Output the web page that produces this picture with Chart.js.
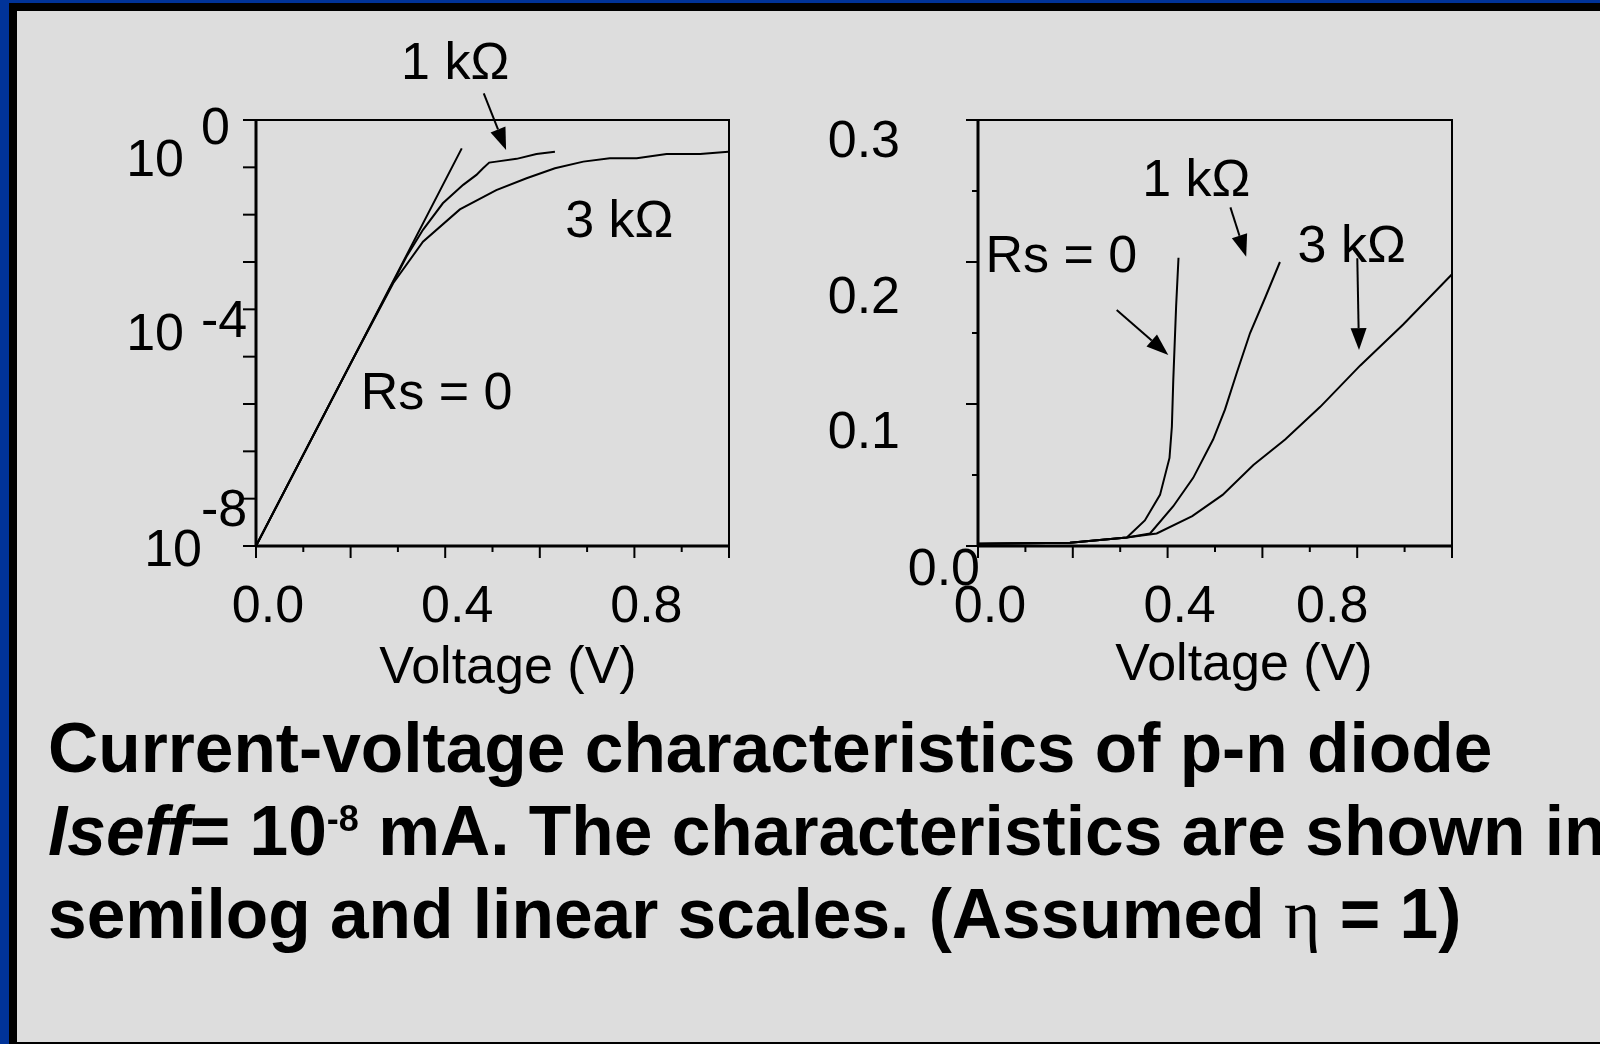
<!DOCTYPE html>
<html>
<head>
<meta charset="utf-8">
<title>Current-voltage characteristics of p-n diode</title>
<script src="https://cdn.jsdelivr.net/npm/chart.js@4.4.0/dist/chart.umd.min.js"></script>
<style>
  html, body { margin: 0; padding: 0; }
  body {
    width: 1600px; height: 1044px; overflow: hidden; position: relative;
    background: #003399;
    font-family: "Liberation Sans", Arial, sans-serif;
  }
  #frame { position: absolute; left: 9px; top: 3px; width: 1591px; height: 1041px; background: #000; }
  #panel { position: absolute; left: 17px; top: 11px; width: 1583px; height: 1031px; background: #dddddd; }
  canvas { position: absolute; left: 0; top: 0; }
  #caption {
    position: absolute; left: 48px; top: 707px;
    font-weight: bold; font-size: 69.5px; line-height: 83px;
    white-space: nowrap; color: #000;
  }
  #caption .sup { font-size: 36px; line-height: 0; vertical-align: 24px; }
  #caption .eta { font-family: "Liberation Serif", "DejaVu Serif", serif; font-weight: normal; }
</style>
</head>
<body>
<div id="frame"></div>
<div id="panel"></div>
<canvas id="semilog" width="1600" height="1044"></canvas>
<canvas id="linear" width="1600" height="1044"></canvas>
<div id="caption">
  <div>Current-voltage characteristics of p-n diode</div>
  <div><i>Iseff</i>= 10<span class="sup">-8</span> mA. The characteristics are shown in</div>
  <div>semilog and linear scales. (Assumed <span class="eta">&eta;</span> = 1)</div>
</div>
<script>
// voltage axis (shared)
const voltTicks = [0, 0.1, 0.2, 0.3, 0.4, 0.5, 0.6, 0.7, 0.8, 0.9, 1.0];
const voltLabelValues = [0, 0.4, 0.8];
const voltLabels = ['0.0', '0.4', '0.8'];

// semilog panel: current in mA
const logTicks = [1e-9, 1e-8, 1e-7, 1e-6, 1e-5, 1e-4, 1e-3, 1e-2, 1e-1, 1e0];
const logLabelExps = [0, -4, -8];

const semiV_rs0 = [0, 0.2, 0.435];
const semiI_rs0 = [1e-9, 7.2e-6, 0.251];

const semiV_1k = [0, 0.2, 0.318, 0.353, 0.395, 0.438, 0.466, 0.48, 0.493, 0.508, 0.551, 0.593, 0.632];
const semiI_1k = [1e-9, 7.2e-6, 1.29e-3, 4.79e-3, 0.0174, 0.0427, 0.0692, 0.0955, 0.126, 0.132, 0.151, 0.191, 0.214];

const semiV_3k = [0, 0.2, 0.29, 0.353, 0.431, 0.508, 0.572, 0.632, 0.692, 0.748, 0.805, 0.868, 0.939, 0.9985];
const semiI_3k = [1e-9, 7.2e-6, 3.55e-4, 2.69e-3, 0.0129, 0.0331, 0.0589, 0.0955, 0.132, 0.155, 0.155, 0.191, 0.191, 0.214];

// linear panel: current in mA
const linTicks = [0, 0.05, 0.1, 0.15, 0.2, 0.25, 0.3];
const linLabelValues = [0, 0.1, 0.2, 0.3];
const linLabels = ['0.0', '0.1', '0.2', '0.3'];

const linV_rs0 = [0, 0.194, 0.314, 0.352, 0.384, 0.404, 0.409, 0.412, 0.418, 0.423];
const linI_rs0 = [0.0015, 0.0023, 0.006, 0.018, 0.036, 0.062, 0.084, 0.117, 0.169, 0.203];

const linV_1k = [0, 0.194, 0.314, 0.363, 0.412, 0.454, 0.496, 0.521, 0.546, 0.574, 0.606, 0.637];
const linI_1k = [0.0015, 0.0023, 0.006, 0.0088, 0.028, 0.048, 0.075, 0.096, 0.122, 0.150, 0.175, 0.200];

const linV_3k = [0, 0.194, 0.314, 0.377, 0.452, 0.516, 0.581, 0.648, 0.722, 0.806, 0.897, 0.999];
const linI_3k = [0.0015, 0.0023, 0.006, 0.0088, 0.021, 0.036, 0.057, 0.075, 0.098, 0.127, 0.156, 0.191];

const FONT = '52px "Liberation Sans", Arial, sans-serif';
const CAP = 18.6; // half cap height of FONT, to centre digits on a y

function pts(xs, ys) {
  return xs.map((v, i) => ({ x: v, y: ys[i] }));
}

function seg(ctx, x1, y1, x2, y2) {
  ctx.beginPath();
  ctx.moveTo(x1, y1);
  ctx.lineTo(x2, y2);
  ctx.stroke();
}

function arrow(ctx, x1, y1, x2, y2) {
  const ang = Math.atan2(y2 - y1, x2 - x1);
  const len = 22, half = 8;
  const bx = x2 - len * Math.cos(ang), by = y2 - len * Math.sin(ang);
  seg(ctx, x1, y1, bx, by);
  ctx.beginPath();
  ctx.moveTo(x2, y2);
  ctx.lineTo(bx + half * Math.sin(ang), by - half * Math.cos(ang));
  ctx.lineTo(bx - half * Math.sin(ang), by + half * Math.cos(ang));
  ctx.closePath();
  ctx.fill();
}

// draws the axis box, ticks, tick labels, axis title and curve notes
function framePlugin(cfg) {
  return {
    id: 'frame',
    afterDraw(chart) {
      const ctx = chart.ctx, a = chart.chartArea;
      const xs = chart.scales.x, ys = chart.scales.y;
      ctx.save();
      ctx.strokeStyle = '#000';
      ctx.fillStyle = '#000';
      ctx.lineWidth = 2;
      ctx.strokeRect(a.left, a.top, a.right - a.left, a.bottom - a.top);
      ctx.lineWidth = 3;
      seg(ctx, a.left, a.top - 1, a.left, a.bottom + 1);
      seg(ctx, a.left - 1, a.bottom, a.right + 1, a.bottom);

      // voltage ticks: long every 0.2, short in between
      ctx.lineWidth = 2;
      voltTicks.forEach((v, i) => {
        const px = xs.getPixelForValue(v);
        seg(ctx, px, a.bottom, px, a.bottom + (i % 2 === 0 ? 12 : 6));
      });
      ctx.font = FONT;
      ctx.textAlign = 'center';
      ctx.textBaseline = 'alphabetic';
      voltLabelValues.forEach((v, i) => {
        const dx = (cfg.xLabelDx[voltLabels[i]] || 0) + 12;
        ctx.fillText(voltLabels[i], xs.getPixelForValue(v) + dx, a.bottom + 57 + CAP);
      });
      ctx.fillText('Voltage (V)', cfg.titleX, cfg.titleY + CAP);

      cfg.drawY(ctx, a, ys);

      // curve notes with pointer arrows
      ctx.font = FONT;
      ctx.textAlign = 'center';
      cfg.notes.forEach(n => {
        ctx.fillText(n.text, xs.getPixelForValue(n.x), ys.getPixelForValue(n.y) + CAP);
      });
      ctx.lineWidth = 2;
      cfg.arrows.forEach(r => {
        arrow(ctx, xs.getPixelForValue(r.x1), ys.getPixelForValue(r.y1),
                   xs.getPixelForValue(r.x2), ys.getPixelForValue(r.y2));
      });
      ctx.restore();
    }
  };
}

function makeChart(id, cfg) {
  const line = d => ({
    data: d, showLine: true, borderColor: '#000', borderWidth: 2,
    pointRadius: 0, tension: 0, fill: false
  });
  return new Chart(document.getElementById(id), {
    type: 'scatter',
    data: { datasets: cfg.series.map(line) },
    options: {
      responsive: false,
      animation: false,
      events: [],
      layout: { padding: cfg.padding },
      plugins: { legend: { display: false }, tooltip: { enabled: false } },
      scales: {
        x: { type: 'linear', min: 0, max: 1, display: false },
        y: { type: cfg.yType, min: cfg.yMin, max: cfg.yMax, display: false }
      }
    },
    plugins: [framePlugin(cfg)]
  });
}

// semilog panel
const expNudge = {
  '0':  { baseDx: 0,  baseDy: 37, expDy: 5 },
  '-4': { baseDx: 0,  baseDy: 22, expDy: 9 },
  '-8': { baseDx: 18, baseDy: 49, expDy: 9 }
};

makeChart('semilog', {
  padding: { left: 256, top: 120, right: 1600 - 729, bottom: 1044 - 546 },
  yType: 'logarithmic', yMin: 1e-9, yMax: 1,
  series: [pts(semiV_rs0, semiI_rs0), pts(semiV_1k, semiI_1k), pts(semiV_3k, semiI_3k)],
  xLabelDx: {},
  titleX: 508, titleY: 664,
  drawY(ctx, a, ys) {
    ctx.lineWidth = 2;
    logTicks.forEach(v => {
      const py = ys.getPixelForValue(v);
      seg(ctx, a.left - 13, py, a.left, py);
    });
    ctx.font = FONT;
    logLabelExps.forEach(e => {
      const py = ys.getPixelForValue(Math.pow(10, e));
      const n = expNudge[String(e)];
      ctx.textAlign = 'right';
      ctx.fillText('10', a.left - 72 + n.baseDx, py + n.baseDy + CAP);
      ctx.textAlign = 'left';
      ctx.fillText(String(e), a.left - 55, py + n.expDy + CAP);
    });
  },
  notes: [
    { text: '1 k\u03A9', x: 0.421, y: 18.5 },
    { text: '3 k\u03A9', x: 0.768, y: 8.4e-3 },
    { text: 'Rs = 0', x: 0.3816, y: 1.98e-6 }
  ],
  arrows: [
    { x1: 0.4815, y1: 3.67, x2: 0.5287, y2: 0.233 }
  ]
});

// linear panel; the zero label is tucked in against the corner
const linLabelNudge = {
  '0.3': { dx: 0, dy: 18 },
  '0.2': { dx: 0, dy: 32 },
  '0.1': { dx: 0, dy: 25 },
  '0.0': { dx: 80, dy: 20 }
};

makeChart('linear', {
  padding: { left: 978, top: 120, right: 1600 - 1452, bottom: 1044 - 546 },
  yType: 'linear', yMin: 0, yMax: 0.3,
  series: [pts(linV_rs0, linI_rs0), pts(linV_1k, linI_1k), pts(linV_3k, linI_3k)],
  xLabelDx: { '0.8': -37 },
  titleX: 1244, titleY: 661,
  drawY(ctx, a, ys) {
    ctx.lineWidth = 2;
    linTicks.forEach((v, i) => {
      const py = ys.getPixelForValue(v);
      seg(ctx, a.left - (i % 2 === 0 ? 12 : 6), py, a.left, py);
    });
    ctx.font = FONT;
    ctx.textAlign = 'right';
    linLabelValues.forEach((v, i) => {
      const py = ys.getPixelForValue(v);
      const n = linLabelNudge[linLabels[i]];
      ctx.fillText(linLabels[i], a.left - 78 + n.dx, py + n.dy + CAP);
    });
  },
  notes: [
    { text: '1 k\u03A9', x: 0.4605, y: 0.2595 },
    { text: 'Rs = 0', x: 0.176, y: 0.2061 },
    { text: '3 k\u03A9', x: 0.7884, y: 0.2132 }
  ],
  arrows: [
    { x1: 0.5325, y1: 0.2385, x2: 0.5658, y2: 0.2037 },
    { x1: 0.2926, y1: 0.1662, x2: 0.4015, y2: 0.1345 },
    { x1: 0.8002, y1: 0.2026, x2: 0.8038, y2: 0.138 }
  ]
});
</script>
</body>
</html>
